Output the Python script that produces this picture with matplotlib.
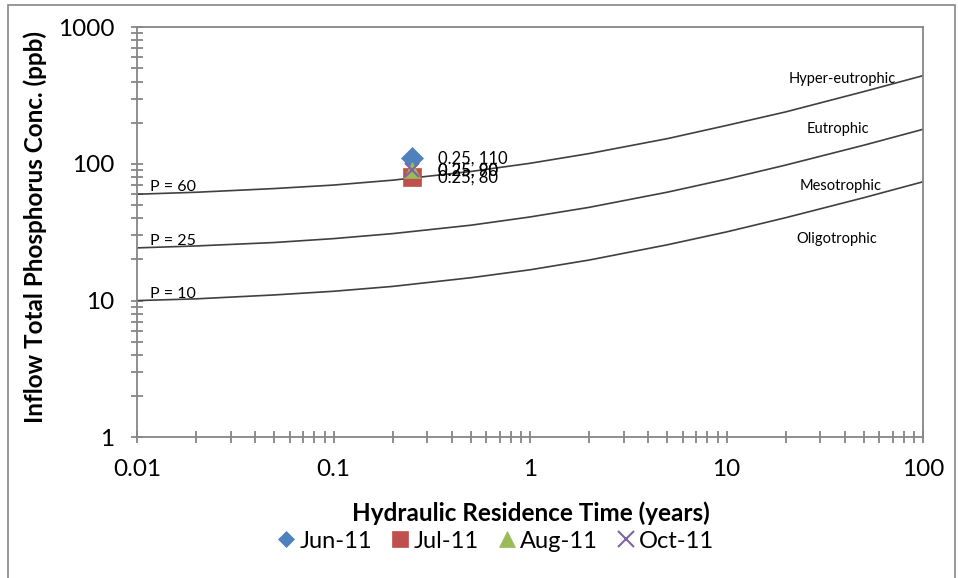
import matplotlib
matplotlib.use("Agg")
import matplotlib.pyplot as plt
from matplotlib.patches import Rectangle

plt.rcParams['font.family'] = ['Lato', 'DejaVu Sans']

# Trophic boundary curves (hydraulic residence time, inflow TP)
tau = [0.01, 0.02, 0.05, 0.1, 0.2, 0.5, 1, 2, 5, 10, 20, 50, 100]
p60 = [60, 62, 66, 70, 76, 88, 101, 119, 153, 191, 240, 338, 442]
p25 = [24.3, 25.1, 26.6, 28.4, 30.9, 35.6, 40.9, 48.1, 62.1, 77.3, 98, 137, 179]
p10 = [10, 10.3, 11, 11.7, 12.7, 14.7, 16.8, 19.8, 25.6, 31.8, 40.4, 56.6, 74]

# Sampled points
months = ["Jun-11", "Jul-11", "Aug-11", "Oct-11"]
month_x = [0.25, 0.25, 0.25, 0.25]
month_y = [110, 80, 90, 90]
markers = ["D", "s", "^", "x"]
colors = ["#4F81BD", "#C0504D", "#9BBB59", "#8064A2"]
sizes = [11, 13.5, 11, 10]
legend_sizes = [8.5, 11.5, 12, 11]

axis_grey = "#868686"
line_grey = "#404040"

fig = plt.figure(figsize=(9.58, 5.78), dpi=100)
ax = fig.add_axes([0.143, 0.2434, 0.8205, 0.7096])

for ys in (p60, p25, p10):
    ax.plot(tau, ys, color=line_grey, lw=1.2, zorder=2)

for i in range(len(months)):
    ax.plot(month_x[i], month_y[i], linestyle="none", marker=markers[i],
            ms=sizes[i], color=colors[i], mec=colors[i],
            mew=1.5 if markers[i] == "x" else 0.5, label=months[i], zorder=3)

# data labels (Aug and Oct overlap at 90)
for xv, yv in zip(month_x, month_y):
    ax.annotate(f"{xv:g}, {yv:g}", (xv, yv), xytext=(19, 0),
                textcoords="offset points", va="center", ha="left",
                fontsize=12, color="black", zorder=4)

# curve labels
ax.text(0.0117, 60, "P = 60", fontsize=11.5, va="bottom", ha="left")
ax.text(0.0116, 24.3, "P = 25", fontsize=11.5, va="bottom", ha="left")
ax.text(0.0116, 10, "P = 10", fontsize=11.5, va="bottom", ha="left")
ax.text(39, 418, "Hyper-eutrophic", fontsize=10.5, va="center", ha="center")
ax.text(37, 180, "Eutrophic", fontsize=10.5, va="center", ha="center")
ax.text(38, 69, "Mesotrophic", fontsize=10.5, va="center", ha="center")
ax.text(36.6, 28.2, "Oligotrophic", fontsize=10.5, va="center", ha="center")

ax.set_xscale("log")
ax.set_yscale("log")
ax.set_xlim(0.01, 100)
ax.set_ylim(1, 1000)
ax.set_xticks([0.01, 0.1, 1, 10, 100])
ax.set_xticklabels(["0.01", "0.1", "1", "10", "100"])
ax.set_yticks([1, 10, 100, 1000])
ax.set_yticklabels(["1", "10", "100", "1000"])

for sp in ax.spines.values():
    sp.set_color(axis_grey)
    sp.set_linewidth(1.3)

ax.tick_params(which="both", direction="inout", color=axis_grey, width=1.3,
               labelsize=17.5, top=False, right=False)
ax.tick_params(which="major", length=9)
ax.tick_params(which="minor", length=8)
ax.tick_params(axis="x", which="major", pad=11)
ax.tick_params(axis="y", which="major", pad=12)

ax.set_xlabel("Hydraulic Residence Time (years)", fontsize=17.5,
              fontweight="bold", va="center")
ax.xaxis.set_label_coords(0.501, -0.1845)
ax.set_ylabel("Inflow Total Phosphorus Conc. (ppb)", fontsize=17.5,
              fontweight="bold", va="center")
ax.yaxis.set_label_coords(-0.129, 0.5125)

leg = fig.legend(loc="center", bbox_to_anchor=(0.516, 0.064), ncol=4,
                 frameon=False, fontsize=17, handletextpad=0.05,
                 columnspacing=0.7, handlelength=1.0)
for h, s in zip(leg.legend_handles, legend_sizes):
    h.set_markersize(s)

# chart area border
fig.patches.append(Rectangle((8 / 958, -0.01), 947 / 958, 1.0 - 5 / 578 + 0.01,
                             transform=fig.transFigure, fill=False,
                             edgecolor=axis_grey, lw=1.2))

fig.savefig("out.png", dpi=100)
